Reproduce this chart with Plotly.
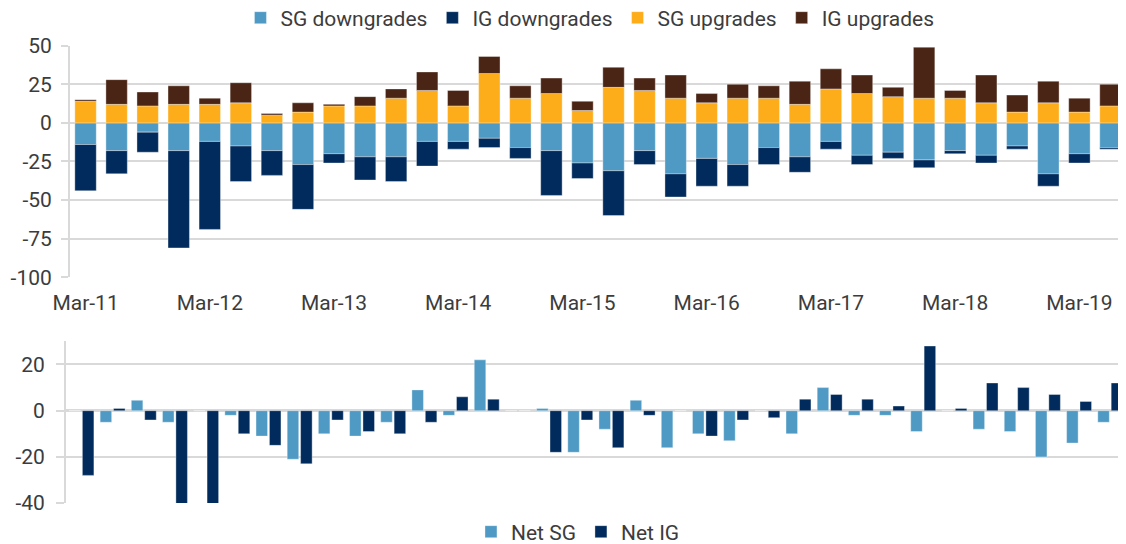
import plotly.graph_objects as go

quarters = [f'{m}-{y:02d}' for y in range(11, 20) for m in ('Mar', 'Jun', 'Sep', 'Dec')][:34]
tick_quarters = quarters[::4]

# rating actions per quarter (counts)
sg_down = [14, 18, 6, 18, 12, 15, 18, 27, 20, 22, 22, 12, 12, 10, 16, 18, 26,
           31, 18, 33, 23, 27, 16, 22, 12, 21, 19, 24, 18, 21, 15, 33, 20, 16]
ig_down = [30, 15, 13, 63, 57, 23, 16, 29, 6, 15, 16, 16, 5, 6, 7, 29, 10,
           29, 9, 15, 18, 14, 11, 10, 5, 6, 4, 5, 2, 5, 2, 8, 6, 1]
sg_up = [14, 12, 11, 12, 12, 13, 5, 7, 11, 11, 16, 21, 11, 32, 16, 19, 8,
         23, 21, 16, 13, 16, 16, 12, 22, 19, 17, 16, 16, 13, 7, 13, 7, 11]
ig_up = [1, 16, 9, 12, 4, 13, 1, 6, 1, 6, 6, 12, 10, 11, 8, 10, 6,
         13, 8, 15, 6, 9, 8, 15, 13, 12, 6, 33, 5, 18, 11, 14, 9, 14]

# net changes (bottom panel)
net_sg = [0, -5, 4.5, -5, 0, -2, -11, -21, -10, -11, -5, 9, -2, 22, 0, 1, -18,
          -8, 4.5, -16, -10, -13, 0, -10, 10, -2, -2, -9, 0, -8, -9, -20, -14, -5]
net_ig = [-28, 1, -4, -51, -53, -10, -15, -23, -4, -9, -10, -5, 6, 5, 0, -18, -4,
          -16, -2, 0, -11, -4, -3, 5, 7, 5, 2, 28, 1, 12, 10, 7, 4, 12]

top_ticks = [50, 25, 0, -25, -50, -75, -100]
top_ticktext = ['50', '25', '0', '-25', '-50', '-75', '-100']
bot_ticks = [20, 0, -20, -40]
bot_ticktext = ['20', '0', '-20', '-40']

LIGHT_BLUE = '#4f9ac4'
NAVY = '#002b5c'
ORANGE = '#fdac1a'
BROWN = '#4a2515'
GRID = '#d9d9d9'
FONT = 'Roboto'
edge = dict(color='rgba(255,255,255,0.45)', width=0.8)

fig = go.Figure()
for name, vals, color in [('SG downgrades', [-v for v in sg_down], LIGHT_BLUE),
                          ('IG downgrades', [-v for v in ig_down], NAVY),
                          ('SG upgrades', sg_up, ORANGE),
                          ('IG upgrades', ig_up, BROWN)]:
    fig.add_trace(go.Bar(x=quarters, y=vals, name=name, marker_color=color,
                         marker_line=edge, xaxis='x', yaxis='y', legend='legend'))

fig.add_trace(go.Bar(x=quarters, y=net_sg, name='Net SG', marker_color=LIGHT_BLUE,
                     marker_line=edge, width=0.37, offset=-0.405,
                     xaxis='x2', yaxis='y2', legend='legend2'))
fig.add_trace(go.Bar(x=quarters, y=net_ig, name='Net IG', marker_color=NAVY,
                     marker_line=edge, width=0.37, offset=0.025,
                     xaxis='x3', yaxis='y2', legend='legend2'))

# page body adds an 8px margin, so the figure is 8px smaller than the window
fig.update_layout(
    width=1118, height=536,
    margin=dict(l=58, r=0, t=0, b=0, autoexpand=False),
    paper_bgcolor='white', plot_bgcolor='white',
    barmode='relative', bargap=0.31,
    font=dict(family=FONT, size=21, color='#3c3c3c'),
    xaxis=dict(domain=[0.0038, 1], type='category', categoryorder='array', categoryarray=quarters,
               range=[-0.5, 33.5], tickmode='array', tickvals=tick_quarters, ticktext=tick_quarters,
               ticks='', ticklabelstandoff=11, showgrid=False, showline=False, anchor='y'),
    yaxis=dict(domain=[0.4976, 0.9297], range=[-100, 50], tickmode='array', tickvals=top_ticks,
               ticktext=top_ticktext, showgrid=True, gridcolor=GRID, gridwidth=2,
               zeroline=True, zerolinecolor=GRID, zerolinewidth=2,
               showline=True, linecolor=GRID, linewidth=2,
               ticks='outside', ticklen=7, tickcolor=GRID, tickwidth=2,
               ticklabelstandoff=5, anchor='x'),
    xaxis2=dict(domain=[0, 1], type='category', categoryorder='array', categoryarray=quarters,
                range=[-0.5, 33.5], showticklabels=False, ticks='', showgrid=False,
                showline=False, anchor='y2'),
    xaxis3=dict(domain=[0, 1], type='category', categoryorder='array', categoryarray=quarters,
                range=[-0.5, 33.5], overlaying='x2', matches='x2', visible=False, anchor='y2'),
    yaxis2=dict(domain=[0.0763, 0.378], range=[-40, 30], tickmode='array', tickvals=bot_ticks,
                ticktext=bot_ticktext, showgrid=True, gridcolor=GRID, gridwidth=2,
                zeroline=True, zerolinecolor=GRID, zerolinewidth=3,
                showline=True, linecolor=GRID, linewidth=2,
                ticks='outside', ticklen=8, tickcolor=GRID, tickwidth=2,
                ticklabelstandoff=7, anchor='x2'),
    legend=dict(orientation='h', x=0.4943, xanchor='center', y=0.9813, yanchor='middle',
                traceorder='normal', font=dict(size=21), bgcolor='rgba(0,0,0,0)'),
    legend2=dict(orientation='h', x=0.483, xanchor='center', y=0.0224, yanchor='middle',
                 traceorder='normal', font=dict(size=21), bgcolor='rgba(0,0,0,0)'),
)

fig.write_html('out.html')
